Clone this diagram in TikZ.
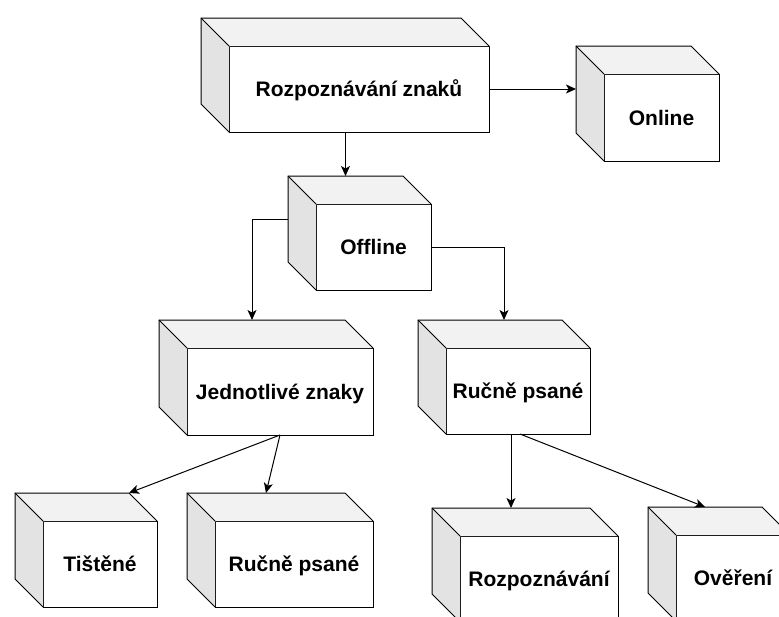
\documentclass[tikz,border=0pt]{standalone}
\usepackage{fontspec}
\setmainfont{Liberation Sans}
\usetikzlibrary{arrows.meta}
\tikzset{
  front/.style={draw=black, line width=1pt, fill=white, inner sep=0pt, outer sep=0pt,
    font=\fontsize{21}{25}\selectfont\bfseries, text height=15pt, text depth=0pt},
  topface/.style={fill=black!5},
  leftface/.style={fill=black!11},
  rim/.style={draw=black, line width=1pt, line join=miter},
  link/.style={draw=black, line width=1pt, -{Stealth[length=10pt,width=9pt,inset=2.5pt]}},
}
\newcommand\cubebox[6]{%
  \node[front, minimum width=#4pt, minimum height=#5pt] (#1) at (#2,#3) {#6};
  \coordinate (#1-tl) at ([shift={(-28,-28)}]#1.north west);
  \coordinate (#1-tr) at ([shift={(-28,-28)}]#1.north east);
  \coordinate (#1-bl) at ([shift={(-28,-28)}]#1.south west);
  \coordinate (#1-t) at ([shift={(-28,-28)}]#1.north);
  \coordinate (#1-w) at ([shift={(-28,-28)}]#1.west);
  \fill[topface] (#1.north west) -- (#1-tl) -- (#1-tr) -- (#1.north east) -- cycle;
  \fill[leftface] (#1.north west) -- (#1-tl) -- (#1-bl) -- (#1.south west) -- cycle;
  \draw[rim] (#1.south west) -- (#1-bl) -- (#1-tl) -- (#1-tr) -- (#1.north east);
  \draw[rim] (#1-tl) -- (#1.north west);
}
\begin{document}
\begin{tikzpicture}[x=1pt, y=-1pt]
  \useasboundingbox (0,0) rectangle (779,616);
  \clip (0,0) rectangle (779,616);
  \cubebox{A}{359}{89}{260}{86}{Rozpoznávání znaků}
  \cubebox{B}{661.5}{117.5}{115}{87}{Online}
  \cubebox{C}{373.5}{247}{115}{86}{Offline}
  \cubebox{D}{280}{391.5}{186}{87}{Jednotlivé znaky}
  \cubebox{E}{518}{391}{144}{86}{Ručně psané}
  \cubebox{F}{100}{564}{114}{86}{Tištěné}
  \cubebox{G}{294}{564}{158}{86}{Ručně psané}
  \cubebox{H}{539}{579}{158}{86}{Rozpoznávání}
  \cubebox{I}{733}{578}{114}{86}{Ověření}
  \coordinate (Et) at ([xshift=14pt]E-t);
  \coordinate (Es) at ([xshift=2pt]E.south);
  \draw[link] (A.east) -- (A.east -| B-tl);
  \draw[link] (C-t |- A.south) -- (C-t);
  \draw[link] (C-w) -| (D-t);
  \draw[link] (C.east) -| (Et);
  \draw[link] (D.south) -- (F-tr);
  \draw[link] (D.south) -- (G-t);
  \draw[link] (H-t |- E.south) -- (H-t);
  \draw[link] (Es) -- (I-t);
\end{tikzpicture}
\end{document}
